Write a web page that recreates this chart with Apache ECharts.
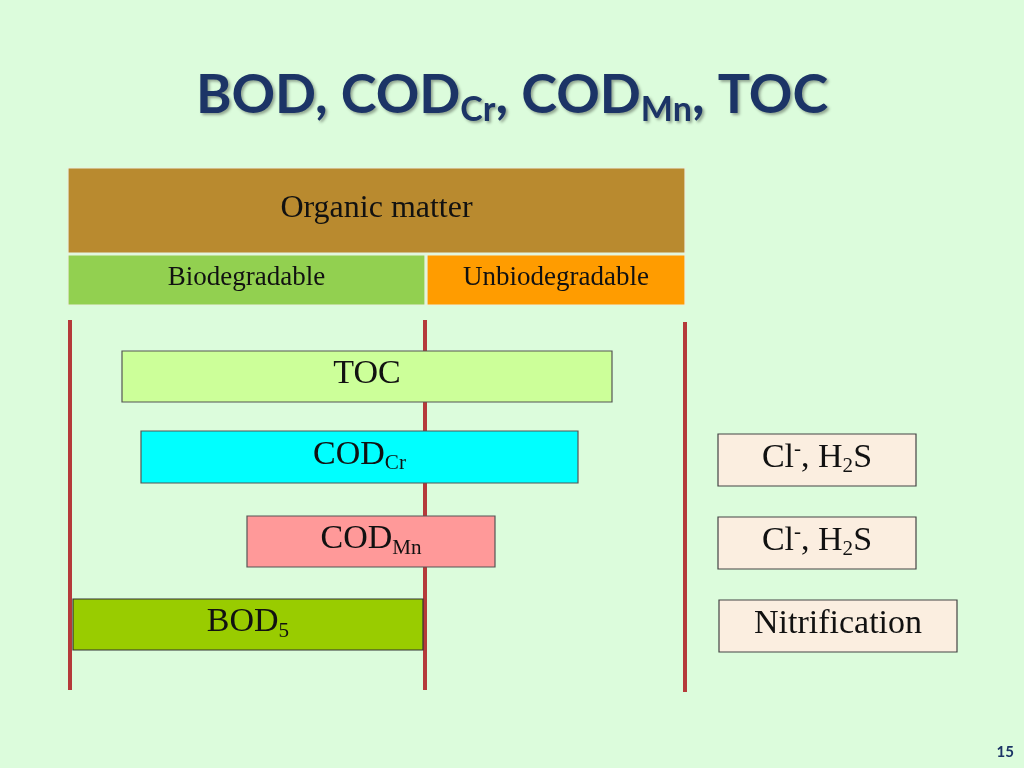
<!DOCTYPE html>
<html><head><meta charset="utf-8">
<script src="https://cdn.jsdelivr.net/npm/echarts@6/dist/echarts.min.js"></script>
<style>html,body{margin:0;padding:0;background:#dcfcdc}#c{width:1024px;height:768px}</style>
</head><body><div id="c"></div>
<script>
// boxes: [x0, x1, y0, y1, label (rich), fill, border, fontSize]
const headerBoxes = [
  [68, 685, 168, 253, 'Organic matter', '#b98a2f', '#e8f0e0', 32],
  [68, 425, 255, 305, 'Biodegradable', '#92d050', '#e8f0e0', 27],
  [427, 685, 255, 305, 'Unbiodegradable', '#ff9c00', '#e8f0e0', 27]
];
const measureBoxes = [
  [122, 612, 351, 402, 'TOC', '#ccff99', '#555555', 34],
  [141, 578, 431, 483, 'COD{s|Cr}', '#00ffff', '#555555', 34],
  [247, 495, 516, 567, 'COD{s|Mn}', '#ff9999', '#555555', 34],
  [73, 423, 599, 650, 'BOD{s|5}', '#99cc00', '#333333', 34]
];
const interferenceBoxes = [
  [718, 916, 434, 486, 'Cl{p|-}, H{s|2}S', '#fbeee0', '#444444', 34],
  [718, 916, 517, 569, 'Cl{p|-}, H{s|2}S', '#fbeee0', '#444444', 34],
  [719, 957, 600, 652, 'Nitrification', '#fbeee0', '#444444', 34]
];
const dividers = [[70, 320, 690], [425, 320, 690], [685, 322, 692]];

const chart = echarts.init(document.getElementById('c'));
function boxRender(params, api) {
  const p0 = api.coord([api.value(0), api.value(2)]);
  const p1 = api.coord([api.value(1), api.value(3)]);
  const d = params.dataIndex;
  const fs = api.value(7);
  return {
    type: 'group',
    children: [
      {type: 'rect', shape: {x: p0[0], y: p0[1], width: p1[0] - p0[0], height: p1[1] - p0[1]},
       style: {fill: api.value(5), stroke: api.value(6), lineWidth: 1.2}},
      {type: 'text', x: (p0[0] + p1[0]) / 2, y: (p0[1] + p1[1]) / 2 - 2,
       style: {text: api.value(4), align: 'center', verticalAlign: 'middle',
         fontFamily: 'Liberation Serif', fontSize: fs, fill: '#111',
         rich: {s: {fontSize: fs * 0.62, fontFamily: 'Liberation Serif', verticalAlign: 'bottom', padding: [fs * 0.5, 0, 0, 0], fill: '#111'},
                p: {fontSize: fs * 0.62, fontFamily: 'Liberation Serif', verticalAlign: 'top', padding: [0, 0, fs * 0.45, 0], fill: '#111'}}}}
    ]
  };
}
const enc = {x: [0, 1], y: [2, 3]};
chart.setOption({
  backgroundColor: '#dcfcdc',
  animation: false,
  title: {
    text: 'BOD, COD{s|Cr}, COD{s|Mn}, TOC', left: 'center', top: 60,
    textStyle: {fontFamily: 'Lato', fontWeight: 'bold', fontSize: 54, color: '#1c3466',
      textShadowColor: 'rgba(0,0,0,0.35)', textShadowBlur: 3, textShadowOffsetX: 2, textShadowOffsetY: 2,
      rich: {s: {fontFamily: 'Lato', fontWeight: 'bold', fontSize: 34, color: '#1c3466', verticalAlign: 'bottom', padding: [28, 0, 0, 0],
        textShadowColor: 'rgba(0,0,0,0.35)', textShadowBlur: 3, textShadowOffsetX: 2, textShadowOffsetY: 2}}}
  },
  graphic: [{type: 'text', right: 10, bottom: 8, style: {text: '15', fontSize: 15, fontFamily: 'Lato', fontWeight: 'bold', fill: '#1c3466'}}],
  grid: {left: 0, right: 0, top: 0, bottom: 0},
  xAxis: {type: 'value', min: 0, max: 1024, show: false},
  yAxis: {type: 'value', min: 0, max: 768, inverse: true, show: false},
  series: [
    {type: 'custom', data: dividers, encode: {x: 0, y: [1, 2]},
     renderItem: (params, api) => {
       const a = api.coord([api.value(0), api.value(1)]);
       const b = api.coord([api.value(0), api.value(2)]);
       return {type: 'line', shape: {x1: a[0], y1: a[1], x2: b[0], y2: b[1]}, style: {stroke: '#b53a3a', lineWidth: 4}};
     }},
    {type: 'custom', data: headerBoxes, encode: enc, renderItem: boxRender},
    {type: 'custom', data: measureBoxes, encode: enc, renderItem: boxRender},
    {type: 'custom', data: interferenceBoxes, encode: enc, renderItem: boxRender}
  ]
});
</script></body></html>
